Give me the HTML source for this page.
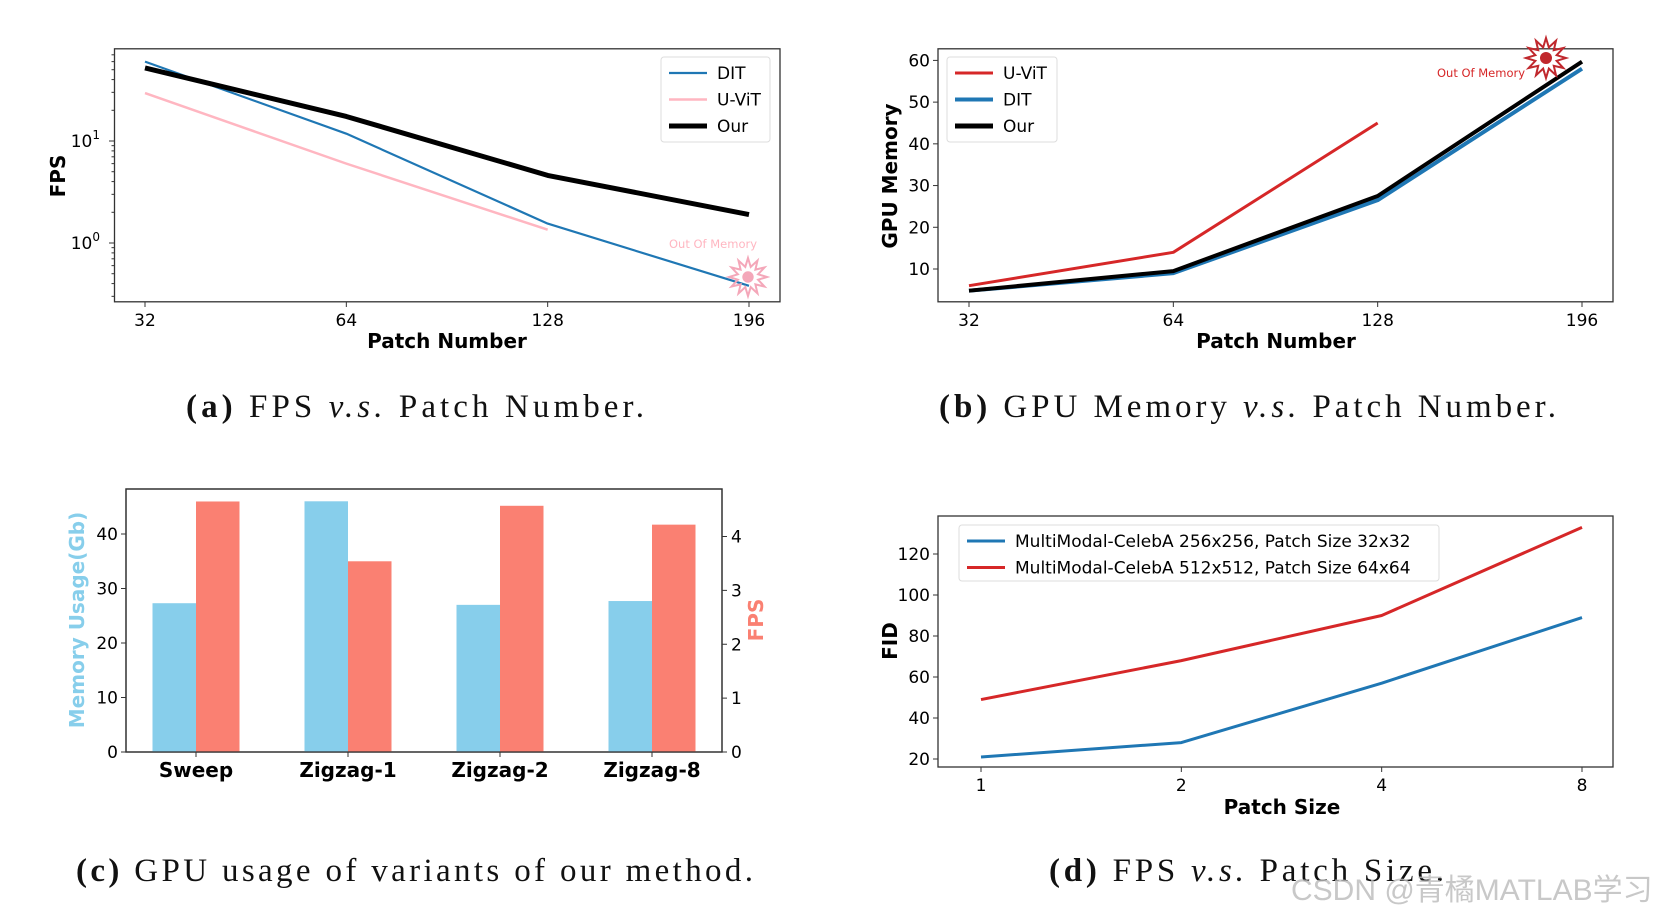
<!DOCTYPE html>
<html><head><meta charset="utf-8"><style>
html,body{margin:0;padding:0;background:#fff;width:1660px;height:918px;overflow:hidden}
svg{display:block}
text{font-family:"DejaVu Sans","Liberation Sans",sans-serif}
.cap{font-family:"Liberation Serif","DejaVu Serif",serif;font-size:33px;fill:#111}
</style></head><body>
<svg id="fig" width="1660" height="918" xmlns="http://www.w3.org/2000/svg">
<text class="cap" x="186" y="417" textLength="458" lengthAdjust="spacing"><tspan font-weight="bold">(a)</tspan> FPS <tspan font-style="italic">v.s.</tspan> Patch Number.</text>
<text class="cap" x="939" y="417" textLength="617" lengthAdjust="spacing"><tspan font-weight="bold">(b)</tspan> GPU Memory <tspan font-style="italic">v.s.</tspan> Patch Number.</text>
<text class="cap" x="76" y="881" textLength="677" lengthAdjust="spacing"><tspan font-weight="bold">(c)</tspan> GPU usage of variants of our method.</text>
<text class="cap" x="1049" y="881" textLength="395" lengthAdjust="spacing"><tspan font-weight="bold">(d)</tspan> FPS <tspan font-style="italic">v.s.</tspan> Patch Size.</text>
<text x="1291" y="900" font-size="30" fill="#bbb" opacity="0.8" style='font-family:"Liberation Sans","Noto Sans CJK SC",sans-serif'>CSDN @青橘MATLAB学习</text>
</svg>
<script>
const patchCats=["32","64","128","196"];
const fpsDit=[60,11.8,1.55,0.38];
const fpsUvit=[29.5,6,1.35];
const fpsOur=[52,17.4,4.6,1.9];
const memUvit=[6,14,45];
const memDit=[4.8,9,26.5,58];
const memOur=[4.8,9.5,27.5,59.7];
const memTicks=[10,20,30,40,50,60];
const variantCats=["Sweep","Zigzag-1","Zigzag-2","Zigzag-8"];
const variantMem=[27.3,46,27,27.7];
const variantFps=[4.65,3.54,4.57,4.22];
const memUsageTicks=[0,10,20,30,40];
const fpsRightTicks=[0,1,2,3,4];
const sizeCats=["1","2","4","8"];
const fid256=[21,28,57,89];
const fid512=[49,68,90,133];
const fidTicks=[20,40,60,80,100,120];

const NS="http://www.w3.org/2000/svg";
const fig=document.getElementById('fig');
function mk(tag,attrs,parent,txt){const e=document.createElementNS(NS,tag);for(const k in attrs)e.setAttribute(k,attrs[k]);if(txt!==undefined)e.textContent=txt;(parent||fig).appendChild(e);return e;}
function catScale(x0,x1,n){return i=>x0+(x1-x0)*i/(n-1);}
function linScale(v0,v1,p0,p1){return v=>p0+(v-v0)*(p1-p0)/(v1-v0);}
function frame(x,y,w,h,name){const r=mk('rect',{x:x,y:y,width:w,height:h,fill:'none',stroke:'#333','stroke-width':1.3});}
function line(vals,sx,sy,color,w,name){const pts=vals.map((v,i)=>sx(i)+','+sy(v)).join(' ');const p=mk('polyline',{points:pts,fill:'none',stroke:color,'stroke-width':w,'stroke-linejoin':'round'});}
function xTicks(cats,sx,yb,name){cats.forEach((c,i)=>{mk('line',{x1:sx(i),x2:sx(i),y1:yb,y2:yb+5,stroke:'#333'});const t=mk('text',{x:sx(i),y:yb+24,'font-size':17,'text-anchor':'middle'},fig,c);});}
function yTicks(vals,sy,xl,name,right){vals.forEach(v=>{mk('line',{x1:xl,x2:right?xl+5:xl-5,y1:sy(v),y2:sy(v),stroke:'#333'});const t=mk('text',{x:right?xl+9:xl-8,y:sy(v)+6,'font-size':17,'text-anchor':right?'start':'end'},fig,String(v));});}
function label(x,y,txt,rot,color,name,size){const t=mk('text',{x:x,y:y,'font-size':size||20,'font-weight':'bold','text-anchor':'middle',fill:color||'#000',transform:rot?`rotate(-90 ${x} ${y})`:''},fig,txt);}
function legend(x,y,w,h,items,name){const g=mk('g',{});mk('rect',{x:x,y:y,width:w,height:h,rx:3,fill:'#fff',stroke:'#ddd'},g);items.forEach((it,i)=>{const yy=y+16+i*26.5;mk('line',{x1:x+8,x2:x+46,y1:yy,y2:yy,stroke:it[1],'stroke-width':it[2]},g);const t=mk('text',{x:x+56,y:yy+6,'font-size':17},g,it[0]);});}
function star(cx,cy,r,color,name){let pts=[];for(let i=0;i<24;i++){const rr=i%2?r*0.55:r;const a=i*Math.PI/12;pts.push((cx+rr*Math.sin(a))+','+(cy-rr*Math.cos(a)));}const p=mk('polygon',{points:pts.join(' '),fill:'none',stroke:color,'stroke-width':2});mk('circle',{cx:cx,cy:cy,r:r*0.3,fill:color});}

// Panel A (log)
{const sx=catScale(145,749,4);const ly=v=>243-102*Math.log10(v);
frame(114.5,48.8,665.5,253,'fps-plot-area');
line(fpsUvit,sx,ly,'#ffb6c1',2.5,'uvit-fps-line');
line(fpsDit,sx,ly,'#1f77b4',2.2,'dit-fps-line');
line(fpsOur,sx,ly,'#000',5,'our-fps-line');
xTicks(patchCats,sx,302,'x-tick-a');
[[1,'10'],[0,'10']].forEach(([e,b])=>{const y=ly(Math.pow(10,e));mk('line',{x1:114.5,x2:109,y1:y,y2:y,stroke:'#333'});const t=mk('text',{x:100,y:y+6,'font-size':17,'text-anchor':'end'},fig,b);mk('tspan',{dy:-8,'font-size':12},t,String(e));});
[0.3,0.4,0.5,0.6,0.7,0.8,0.9,2,3,4,5,6,7,8,9,20,30,40,50,60,70].forEach(v=>{const y=ly(v);mk('line',{x1:114.5,x2:111.5,y1:y,y2:y,stroke:'#333'});});
label(447,348,'Patch Number',false,'#000','x-axis-title-a');
label(65,176,'FPS',true,'#000','y-axis-title-a');
legend(661,57,109,85,[['DIT','#1f77b4',2.2],['U-ViT','#ffb6c1',2.5],['Our','#000',5]],'legend-a');
const t=mk('text',{x:669,y:248,'font-size':11.5,fill:'#ffb6c1'},fig,'Out Of Memory');
star(748,277,19,'#f4a7b9','oom-star-a');}

// Panel B
{const sx=catScale(969,1582,4);const sy=linScale(10,60,269,60.4);
frame(938,48.8,675,253,'memory-plot-area');
line(memUvit,sx,sy,'#d62728',3,'uvit-memory-line');
line(memDit,sx,sy,'#1f77b4',4,'dit-memory-line');
line(memOur,sx,sy,'#000',4,'our-memory-line');
xTicks(patchCats,sx,302,'x-tick-b');yTicks(memTicks,sy,938,'y-tick-b');
label(1276,348,'Patch Number',false,'#000','x-axis-title-b');
label(897,176,'GPU Memory',true,'#000','y-axis-title-b');
legend(947,57,110,85,[['U-ViT','#d62728',3],['DIT','#1f77b4',4],['Our','#000',5]],'legend-b');
const t=mk('text',{x:1437,y:77,'font-size':11.5,fill:'#d62728'},fig,'Out Of Memory');
star(1546,58,20,'#c0282d','oom-star-b');}

// Panel C
{const cx=[196,348,500,652];const sl=linScale(0,40,752,534);const sr=linScale(0,4,752,536.5);const bw=43.5;
frame(126,489,596,263,'variant-plot-area');
variantCats.forEach((c,i)=>{const b1=mk('rect',{x:cx[i]-bw,y:sl(variantMem[i]),width:bw,height:752-sl(variantMem[i]),fill:'#87ceeb'});
const b2=mk('rect',{x:cx[i],y:sr(variantFps[i]),width:bw,height:752-sr(variantFps[i]),fill:'#fa8072'});
mk('line',{x1:cx[i],x2:cx[i],y1:752,y2:757,stroke:'#333'});
const t=mk('text',{x:cx[i],y:777,'font-size':20,'font-weight':'bold','text-anchor':'middle'},fig,c);});
mk('rect',{x:126,y:489,width:596,height:263,fill:'none',stroke:'#333','stroke-width':1.3});
yTicks(memUsageTicks,sl,126,'y-tick-c-left');yTicks(fpsRightTicks,sr,722,'y-tick-c-right',true);
label(84,620,'Memory Usage(Gb)',true,'#87ceeb','y-axis-title-c-left');
label(763,620,'FPS',true,'#fa8072','y-axis-title-c-right');}

// Panel D
{const sx=catScale(981,1582,4);const sy=linScale(20,120,759,554);
frame(938,516,675,251,'fid-plot-area');
line(fid256,sx,sy,'#1f77b4',3,'fid-256-line');
line(fid512,sx,sy,'#d62728',3,'fid-512-line');
xTicks(sizeCats,sx,767,'x-tick-d');yTicks(fidTicks,sy,938,'y-tick-d');
label(1282,814,'Patch Size',false,'#000','x-axis-title-d');
label(897,641,'FID',true,'#000','y-axis-title-d');
legend(959,525,480,56,[['MultiModal-CelebA 256x256, Patch Size 32x32','#1f77b4',3],['MultiModal-CelebA 512x512, Patch Size 64x64','#d62728',3]],'legend-d');}
</script>
</body></html>
